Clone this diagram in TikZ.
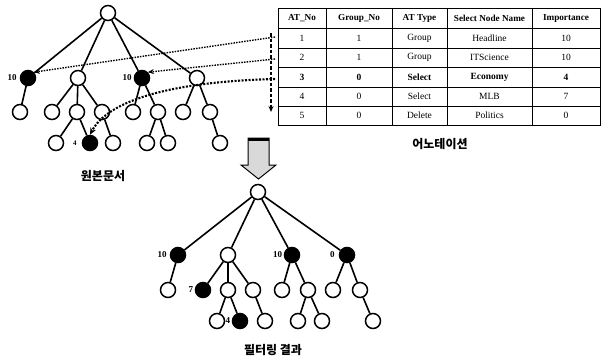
\documentclass[tikz,border=0pt]{standalone}
\usepackage{fontspec}
\setmainfont{Liberation Serif}
\newfontfamily\kr{Noto Sans CJK KR}
\usetikzlibrary{arrows.meta}
\begin{document}
\begin{tikzpicture}[x=1pt,y=-1pt,
  onode/.style={circle,draw,line width=1.5pt,minimum size=15pt,inner sep=0pt,fill=white},
  fnode/.style={onode,fill=black},
  edge/.style={line width=1.6pt},
  thinedge/.style={line width=1.4pt,dash pattern=on 1.6pt off 0.4pt},
  lbl/.style={font=\bfseries\fontsize{9}{10}\selectfont,inner sep=1pt},
  dotarrow/.style={line width=1.4pt,dash pattern=on 1.5pt off 1.2pt,-{Stealth[length=6pt,width=5pt]}},
  thickdot/.style={line width=2.1pt,dash pattern=on 2pt off 1.5pt,-{Stealth[length=7pt,width=6pt]}},
  cell/.style={font=\fontsize{9.5}{11}\selectfont,inner sep=0pt},
  hcell/.style={font=\bfseries\fontsize{9.2}{11}\selectfont,inner sep=0pt},
  bcell/.style={font=\bfseries\fontsize{9.5}{11}\selectfont,inner sep=0pt},
  grid/.style={line width=0.9pt},
  caption/.style={font=\kr\bfseries\fontsize{12}{13}\selectfont,inner sep=0pt}
]
\useasboundingbox (0,0) rectangle (606,360);

% ---------------- top tree ----------------
\node[onode] (r) at (108,13) {};
\node[fnode] (a1) at (28,78) {};
\node[onode] (a2) at (78,78) {};
\node[fnode] (a3) at (142,78) {};
\node[onode] (a4) at (197,78) {};
\node[onode] (b1) at (20,112) {};
\node[onode] (b2) at (52,112) {};
\node[onode] (b3) at (77,112) {};
\node[onode] (b4) at (102,112) {};
\node[onode] (b5) at (133,112) {};
\node[onode] (b6) at (158,112) {};
\node[onode] (b7) at (183,112) {};
\node[onode] (b8) at (210,112) {};
\node[onode] (c1) at (56,143) {};
\node[fnode] (c2) at (90,143) {};
\node[onode] (c3) at (113,143) {};
\node[onode] (c4) at (147,143) {};
\node[onode] (c5) at (168,143) {};
\node[onode] (c6) at (220,143) {};
\foreach \p/\c in {r/a1,r/a2,r/a3,r/a4,a1/b1,a2/b2,a2/b3,a2/b4,a3/b5,a3/b6,a4/b7,a4/b8,b3/c1,b3/c2,b4/c3,b6/c4,b6/c5,b8/c6}
  \draw[edge] (\p) -- (\c);
\node[lbl,anchor=east] (la1) at ([xshift=-2pt]a1.west) {10};
\node[lbl,anchor=east] (la3) at ([xshift=-1pt]a3.west) {10};
\node[lbl,anchor=east,font=\bfseries\fontsize{7}{8}\selectfont] (lc2) at ([xshift=-4pt]c2.west) {4};
\node[caption] (cap1) at (103,176) {원본문서};

% ---------------- table ----------------
\draw[grid] (278,8) rectangle (600,125);
\foreach \x in {326,392,447,532} \draw[grid] (\x,8) -- (\x,125);
\foreach \y in {28,48,67,87,106} \draw[grid] (278,\y) -- (600,\y);
\node[hcell] (h1) at (302,18) {AT\_No};
\node[hcell] (h2) at (359,18) {Group\_No};
\node[hcell] (h3) at (419.5,18) {AT Type};
\node[hcell] (h4) at (489.5,18) {Select Node Name};
\node[hcell] (h5) at (566,18) {Importance};
\foreach \y/\a/\b/\c/\d/\e [count=\i] in {38/1/1/Group/Headline/10,57.5/2/1/Group/ITScience/10,77/3/0/Select/Economy/4,96.5/4/0/Select/MLB/7,115.5/5/0/Delete/Politics/0}{
  \ifnum\i=3
    \node[bcell] (t\i a) at (302,\y) {\a};
    \node[bcell] (t\i b) at (359,\y) {\b};
    \node[bcell] (t\i c) at (419.5,\y) {\c};
    \node[bcell] (t\i d) at (489.5,\y) {\d};
    \node[bcell] (t\i e) at (566,\y) {\e};
  \else
    \node[cell] (t\i a) at (302,\y) {\a};
    \node[cell] (t\i b) at (359,\y) {\b};
    \node[cell] (t\i c) at (419.5,\y) {\c};
    \node[cell] (t\i d) at (489.5,\y) {\d};
    \node[cell] (t\i e) at (566,\y) {\e};
  \fi
}
\node[caption] (cap2) at (440,144) {어노테이션};

% ---------------- annotation links ----------------
\coordinate (s1) at (275,37);
\coordinate (s2) at (275,59);
\coordinate (s3) at (275,79);
\coordinate (vtop) at (271,33);
\coordinate (vbot) at (271,112);
\draw[line width=1.2pt,dash pattern=on 3.5pt off 2pt,-{Stealth[length=6pt,width=5pt]}] (vtop) -- (vbot);
\draw[dotarrow] (s1) -- (a1.north east);
\draw[dotarrow] (s2) -- (a3.north east);
\draw[thickdot] (s3) .. controls (160,82) and (106,104) .. (c2.north);

% ---------------- block arrow ----------------
\draw[line width=1pt,fill=gray!30] (248,138) -- (269,138) -- (269,165) -- (276,165) -- (258.5,179) -- (241,165) -- (248,165) -- cycle;
\draw[line width=2.4pt] (248,139.5) -- (269,139.5);

% ---------------- bottom tree ----------------
\node[onode] (R) at (258,192) {};
\node[fnode] (A1) at (178,255) {};
\node[onode] (A2) at (228,255) {};
\node[fnode] (A3) at (292,255) {};
\node[fnode] (A4) at (347,255) {};
\node[onode] (B1) at (168,290) {};
\node[fnode] (B2) at (203,290) {};
\node[onode] (B3) at (228,290) {};
\node[onode] (B4) at (253,290) {};
\node[onode] (B5) at (282,290) {};
\node[onode] (B6) at (308,290) {};
\node[onode] (B7) at (333,290) {};
\node[onode] (B8) at (360,290) {};
\node[onode] (C1) at (217,321) {};
\node[fnode] (C2) at (240,321) {};
\node[onode] (C3) at (265,321) {};
\node[onode] (C4) at (298,321) {};
\node[onode] (C5) at (322,321) {};
\node[onode] (C6) at (373,321) {};
\foreach \p/\c in {R/A1,R/A2,R/A3,R/A4,A1/B1,A2/B2,A2/B4,A3/B5,A3/B6,A4/B7,A4/B8,B3/C1,B3/C2,B4/C3,B6/C4,B6/C5,B8/C6}
  \draw[edge] (\p) -- (\c);
\draw[thinedge] (A2) -- (B3);
\node[lbl,anchor=east] (lA1) at ([xshift=-2pt]A1.west) {10};
\node[lbl,anchor=east] (lA3) at ([xshift=-0.5pt]A3.west) {10};
\node[lbl,anchor=east] (lA4) at ([xshift=-3pt]A4.west) {0};
\node[lbl,anchor=east] (lB2) at ([xshift=-0.5pt]B2.west) {7};
\node[lbl,anchor=east] (lC2) at ([xshift=-0.5pt]C2.west) {4};
\node[caption] (cap3) at (273,350) {필터링 결과};
\end{tikzpicture}
\end{document}
